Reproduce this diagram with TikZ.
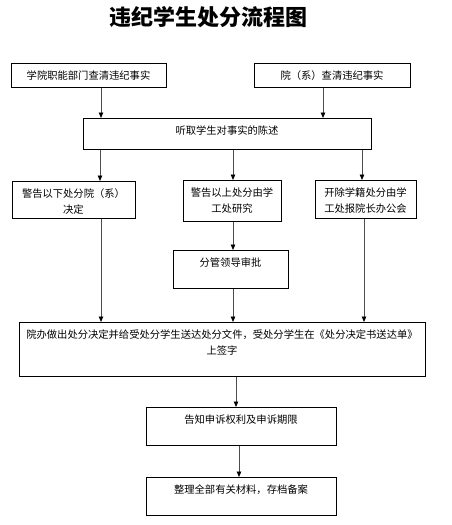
\documentclass[tikz,border=0pt]{standalone}
\usepackage{fontspec}
\newfontfamily\cjk{Noto Sans CJK SC}
\usetikzlibrary{arrows.meta}

\begin{document}
\begin{tikzpicture}[
  x=1pt, y=-1pt,
  box/.style={draw=black, line width=0.7pt, inner xsep=2pt, inner ysep=3pt,
              align=center, anchor=north, text height=12.8pt,
              font=\cjk\fontsize{10.3}{16}\selectfont},
  arr/.style={-{Triangle[length=5.5pt, width=4.5pt, color=black]}, line width=0.8pt, draw=black!70},
  ttl/.style={font=\cjk\bfseries\fontsize{22}{26}\selectfont},
]
\useasboundingbox (0,0) rectangle (451,525);

% --- Title ---
\node[ttl] (title) at (208,17) {违纪学生处分流程图};

% --- Fact finding ---
\node[box, text width=151pt, text depth=5.2pt] (dept) at (88.5,63) {学院职能部门查清违纪事实};
\node[box, text width=152pt, text depth=5.2pt] (yuan) at (332,63) {院（系）查清违纪事实};
\node[box, text width=284pt, text depth=12.2pt] (hear) at (227,118) {听取学生对事实的陈述};

% --- Three levels of punishment ---
\node[box, text width=119pt, text depth=18.2pt] (low) at (73.5,181) {警告以下处分院（系）\\决定};
\node[box, text width=94pt, text depth=22.2pt] (high) at (232,180) {警告以上处分由学\\工处研究};
\node[box, text width=97pt, text depth=19.2pt] (expel) at (365.5,180) {开除学籍处分由学\\工处报院长办公会};
\node[box, text width=111pt, text depth=19.2pt] (lead) at (230.5,250) {分管领导审批};

% --- Decision and archive ---
\node[box, text width=402pt, text depth=35.2pt] (decide) at (222,322)
  {院办做出处分决定并给受处分学生送达处分文件，受处分学生在《处分决定书送达单》\\上签字};
\node[box, text width=186pt, text depth=19.2pt] (appeal) at (241,407) {告知申诉权利及申诉期限};
\node[box, text width=186pt, text depth=19.2pt] (archive) at (241,477) {整理全部有关材料，存档备案};

% --- Arrows ---
\draw[arr] ([xshift=12.5pt]dept.south) -- ([xshift=12.5pt]dept.south |- hear.north);
\draw[arr] ([xshift=-9pt]yuan.south) -- ([xshift=-9pt]yuan.south |- hear.north);

\draw[arr] ([xshift=-127pt]hear.south) -- ([xshift=-127pt]hear.south |- low.north);
\draw[arr] ([xshift=6pt]hear.south) -- ([xshift=6pt]hear.south |- high.north);
\draw[arr] ([xshift=135pt]hear.south) -- ([xshift=135pt]hear.south |- expel.north);

\draw[arr] ([xshift=1pt]high.south) -- ([xshift=1pt]high.south |- lead.north);

\draw[arr] ([xshift=27.5pt]low.south) -- ([xshift=27.5pt]low.south |- decide.north);
\draw[arr] ([xshift=2.5pt]lead.south) -- ([xshift=2.5pt]lead.south |- decide.north);
\draw[arr] ([xshift=-1.5pt]expel.south) -- ([xshift=-1.5pt]expel.south |- decide.north);

\draw[arr] ([xshift=14pt]decide.south) -- ([xshift=14pt]decide.south |- appeal.north);
\draw[arr] ([xshift=-2pt]appeal.south) -- ([xshift=-2pt]appeal.south |- archive.north);

\end{tikzpicture}
\end{document}
